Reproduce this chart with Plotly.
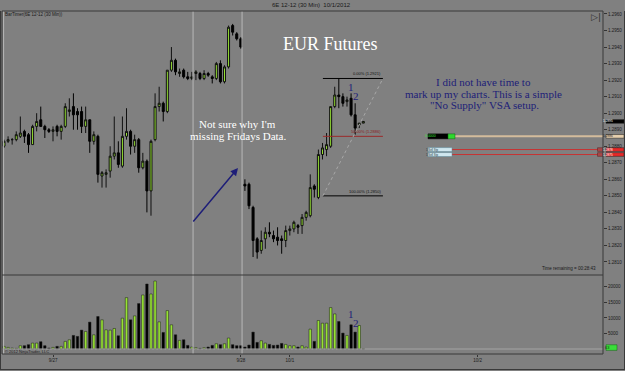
import plotly.graph_objects as go

# ---------------- data ----------------
opens = [1.2880, 1.2883, 1.2884, 1.2884, 1.2886, 1.2889, 1.2887, 1.2881, 1.2892, 1.2896,
         1.2892, 1.2890, 1.2889, 1.2892, 1.2889, 1.2892, 1.2901, 1.2904, 1.2901, 1.2901,
         1.2892, 1.2896, 1.2883, 1.2886, 1.2862, 1.2863, 1.2865, 1.2874, 1.2876, 1.2868,
         1.2886, 1.2889, 1.2880, 1.2884, 1.2867, 1.2871, 1.2853, 1.2884, 1.2904, 1.2906,
         1.2901, 1.2926, 1.2932, 1.2924, 1.2926, 1.2922, 1.2921, 1.2924, 1.2924, 1.2921,
         1.2924, 1.2922, 1.2921, 1.2930, 1.2919, 1.2928, 1.2953, 1.2948, 1.2945, 1.2857,
         1.2857, 1.2843, 1.2824, 1.2817, 1.2824, 1.2828, 1.2826, 1.2825, 1.2824, 1.2823,
         1.2829, 1.2830, 1.2832, 1.2832, 1.2837, 1.2838, 1.2856, 1.2849, 1.2875, 1.2878,
         1.2880, 1.2904, 1.2911, 1.2910, 1.2907, 1.2909, 1.2899, 1.2893, 1.2894]
highs = [1.2884, 1.2886, 1.2885, 1.2889, 1.2898, 1.2890, 1.2888, 1.2893, 1.2900, 1.2904,
         1.2893, 1.2891, 1.2892, 1.2893, 1.2893, 1.2906, 1.2909, 1.2912, 1.2903, 1.2904,
         1.2904, 1.2896, 1.2889, 1.2887, 1.2865, 1.2866, 1.2880, 1.2898, 1.2883, 1.2898,
         1.2903, 1.2890, 1.2887, 1.2885, 1.2876, 1.2872, 1.2884, 1.2912, 1.2916, 1.2907,
         1.2926, 1.2940, 1.2933, 1.2927, 1.2927, 1.2925, 1.2925, 1.2926, 1.2925, 1.2926,
         1.2925, 1.2923, 1.2931, 1.2932, 1.2929, 1.2953, 1.2954, 1.2949, 1.2946, 1.2860,
         1.2858, 1.2844, 1.2825, 1.2829, 1.2831, 1.2834, 1.2829, 1.2831, 1.2826, 1.2832,
         1.2832, 1.2835, 1.2833, 1.2839, 1.2841, 1.2863, 1.2857, 1.2878, 1.2882, 1.2888,
         1.2904, 1.2916, 1.2921, 1.2912, 1.2910, 1.2912, 1.2906, 1.2894, 1.2895]
lows = [1.2879, 1.2882, 1.2881, 1.2883, 1.2885, 1.2882, 1.2876, 1.2881, 1.2889, 1.2892,
        1.2885, 1.2888, 1.2883, 1.2886, 1.2884, 1.2891, 1.2898, 1.2890, 1.2890, 1.2888,
        1.2888, 1.2876, 1.2881, 1.2858, 1.2855, 1.2855, 1.2861, 1.2872, 1.2867, 1.2867,
        1.2884, 1.2875, 1.2876, 1.2864, 1.2866, 1.2840, 1.2838, 1.2883, 1.2901, 1.2895,
        1.2900, 1.2925, 1.2923, 1.2922, 1.2921, 1.2920, 1.2920, 1.2920, 1.2920, 1.2920,
        1.2922, 1.2918, 1.2920, 1.2918, 1.2918, 1.2927, 1.2947, 1.2944, 1.2939, 1.2853,
        1.2842, 1.2813, 1.2812, 1.2815, 1.2818, 1.2825, 1.2822, 1.2820, 1.2815, 1.2819,
        1.2826, 1.2828, 1.2827, 1.2827, 1.2835, 1.2837, 1.2849, 1.2848, 1.2872, 1.2874,
        1.2879, 1.2903, 1.2903, 1.2904, 1.2904, 1.2898, 1.2887, 1.2891, 1.2894]
closes = [1.2883, 1.2884, 1.2884, 1.2887, 1.2888, 1.2886, 1.2881, 1.2892, 1.2895, 1.2892,
          1.2890, 1.2889, 1.2890, 1.2889, 1.2892, 1.2904, 1.2902, 1.2899, 1.2899, 1.2892,
          1.2896, 1.2883, 1.2887, 1.2863, 1.2864, 1.2864, 1.2874, 1.2876, 1.2869, 1.2886,
          1.2889, 1.2880, 1.2884, 1.2867, 1.2871, 1.2853, 1.2883, 1.2904, 1.2906, 1.2901,
          1.2926, 1.2932, 1.2925, 1.2925, 1.2922, 1.2921, 1.2922, 1.2925, 1.2921, 1.2924,
          1.2923, 1.2921, 1.2930, 1.2919, 1.2928, 1.2952, 1.2949, 1.2945, 1.2940, 1.2856,
          1.2844, 1.2823, 1.2816, 1.2823, 1.2828, 1.2827, 1.2824, 1.2823, 1.2823, 1.2829,
          1.2830, 1.2834, 1.2831, 1.2837, 1.2840, 1.2855, 1.2854, 1.2875, 1.2879, 1.2881,
          1.2904, 1.2911, 1.2910, 1.2906, 1.2908, 1.2899, 1.2891, 1.2894, 1.2895]
volumes = [850, 520, 310, 200, 1060, 1060, 1380, 1910, 1910, 2340,
           1060, 310, 520, 850, 850, 2450, 2980, 4370, 4050, 6080,
           5650, 8650, 4580, 10460, 9390, 6190, 6080, 6610, 4260, 9930,
           16550, 9390, 10670, 14630, 17400, 20930, 17720, 21890, 8750, 5330,
           12380, 7790, 4580, 2770, 2980, 1160, 630, 420, 200, 420,
           630, 1160, 1700, 1380, 1700, 3530, 1380, 1060, 1060, 630,
           1270, 5440, 2130, 2660, 1910, 1480, 1160, 1270, 1800, 1480,
           1060, 1060, 630, 1060, 630, 6400, 2450, 9180, 8320, 8320,
           13340, 11310, 8860, 5120, 4370, 7790, 5440, 7570, 63]
bar_index = list(range(len(opens)))

date_ticks = [12, 58, 70, 116]
date_labels = ["9/27", "9/28", "10/1", "10/2"]
price_ticks = [round(1.2810 + 0.001 * k, 4) for k in range(16)]
vol_ticks = [5000, 10000, 15000, 20000]
session_breaks = [-0.1, 46.3, 58.3]
fib_levels = [1.2921, 1.2886, 1.2850]
fib_labels = ["0.00% (1.2921)", "50.00% (1.2886)", "100.00% (1.2850)"]
fib_x = [78.1, 92.8]
order_levels = [1.2886, 1.2878, 1.2875]
order_labels = ["1.2886", "1.2878", "1.2875"]

# ---------------- geometry helpers ----------------
W, H = 625, 371
ML, MR, MT, MB = 2, 22, 11, 17
PW, PH = W - ML - MR, H - MT - MB
def pxx(x):
    return (x - ML) / PW
def pyy(y):
    return (H - MB - y) / PH
split = pyy(275)

GREEN = "#97e234"
NAVY = "#1e1e78"
SANS = "Liberation Sans, Arial, sans-serif"
SERIF = "Liberation Serif, Times New Roman, serif"

vol_colors = [GREEN if c >= o else "#000000" for o, c in zip(opens, closes)]

fig = go.Figure()
fig.add_trace(go.Candlestick(
    x=bar_index, open=opens, high=highs, low=lows, close=closes,
    increasing=dict(fillcolor=GREEN, line=dict(color="#101010", width=1)),
    decreasing=dict(fillcolor="#000000", line=dict(color="#000000", width=1)),
    whiskerwidth=0, xaxis="x", yaxis="y", hoverinfo="skip"))
fig.add_trace(go.Bar(
    x=bar_index, y=volumes, width=0.6,
    marker=dict(color=vol_colors, line=dict(color="#1a1a1a", width=0.5)),
    xaxis="x", yaxis="y2", hoverinfo="skip"))

shapes = []
for sb in session_breaks:
    shapes.append(dict(type="line", xref="x", yref="paper", x0=sb, x1=sb, y0=0, y1=1,
                       line=dict(color="#b8b8b8", width=1)))
shapes.append(dict(type="line", xref="paper", yref="y2", x0=0, x1=1, y0=0, y1=0,
                   line=dict(color="#a4a4a4", width=1)))
fib_cols = ["#000000", "#9b2a2a", "#000000"]
for lv, col in zip(fib_levels, fib_cols):
    shapes.append(dict(type="line", xref="x", yref="y", x0=fib_x[0], x1=fib_x[1], y0=lv, y1=lv,
                       line=dict(color=col, width=1)))
shapes.append(dict(type="line", xref="x", yref="y", x0=fib_x[0], x1=fib_x[1],
                   y0=fib_levels[2], y1=fib_levels[0], line=dict(color="#a8a8a8", width=1, dash="dot")))
shapes.append(dict(type="line", xref="paper", yref="y", x0=pxx(455), x1=1, y0=order_levels[0], y1=order_levels[0],
                   line=dict(color="#d4bc9c", width=2)))
for lv in order_levels[1:]:
    shapes.append(dict(type="line", xref="paper", yref="y", x0=pxx(452), x1=pxx(598), y0=lv, y1=lv,
                       line=dict(color="#c83232", width=1)))
    shapes.append(dict(type="rect", xref="paper", yref="y", x0=pxx(597.5), x1=pxx(603), y0=lv - 0.00011, y1=lv + 0.00011,
                       fillcolor="#a84848", line=dict(color="#502020", width=0.5)))
    shapes.append(dict(type="rect", xref="paper", yref="y", x0=pxx(428), x1=pxx(452), y0=lv - 0.00012, y1=lv + 0.00012,
                       fillcolor="#cfe6ee", line=dict(color="#5a8898", width=0.5)))
shapes.append(dict(type="rect", xref="paper", yref="y", x0=pxx(428), x1=pxx(448),
                   y0=order_levels[0] - 0.00015, y1=order_levels[0] + 0.00015,
                   fillcolor="#000000", line=dict(color="#000000", width=0.5)))
shapes.append(dict(type="rect", xref="paper", yref="y", x0=pxx(448), x1=pxx(455),
                   y0=order_levels[0] - 0.00015, y1=order_levels[0] + 0.00015,
                   fillcolor="#2ed82e", line=dict(color="#106010", width=0.5)))
tag_defs = [(closes[-1], "#000000", "#ffffff", f"{closes[-1]:.4f}"),
            (order_levels[0], "#e6cfae", "#222222", order_labels[0]),
            (order_levels[1], "#e82828", "#ffffff", order_labels[1]),
            (order_levels[2], "#e82828", "#ffffff", order_labels[2])]
for lv, fc, tc, _ in tag_defs:
    shapes.append(dict(type="rect", xref="paper", yref="y", x0=pxx(606), x1=pxx(624), y0=lv - 0.00011, y1=lv + 0.00011,
                       fillcolor=fc, line=dict(color="#202020", width=0.5)))
shapes.append(dict(type="rect", xref="paper", yref="y2", x0=pxx(606), x1=pxx(617), y0=volumes[-1] - 500, y1=volumes[-1] + 1300,
                   fillcolor="#3ade3a", line=dict(color="#146014", width=0.5)))
frame = "#383838"
shapes.append(dict(type="rect", xref="paper", yref="paper", x0=0, x1=1, y0=0, y1=1, line=dict(color=frame, width=1)))
shapes.append(dict(type="line", xref="paper", yref="paper", x0=0, x1=1, y0=split, y1=split, line=dict(color=frame, width=1)))
shapes.append(dict(type="line", xref="paper", yref="paper", x0=pxx(0), x1=pxx(625), y0=pyy(369.5), y1=pyy(369.5),
                   line=dict(color="#3a3a3a", width=1)))
shapes.append(dict(type="line", xref="paper", yref="paper", x0=pxx(0.5), x1=pxx(0.5), y0=pyy(369.5), y1=pyy(11),
                   line=dict(color="#3a3a3a", width=1)))
shapes.append(dict(type="line", xref="paper", yref="paper", x0=pxx(624.5), x1=pxx(624.5), y0=pyy(369.5), y1=pyy(11),
                   line=dict(color="#3a3a3a", width=1)))

ann = []
def text(x, y, s, size, color="#1a1a1a", family=SANS, xanchor="center", xref="paper", yref="paper"):
    ann.append(dict(x=x, y=y, xref=xref, yref=yref, text=s, showarrow=False, xanchor=xanchor, yanchor="middle",
                    font=dict(size=size, color=color, family=family)))

text(pxx(311), pyy(5.5), "6E 12-12 (30 Min)  10/1/2012", 6)
text(pxx(3), pyy(15), "BarTimer(6E 12-12 (30 Min))", 4.5, xanchor="left")
text(pxx(596), pyy(17), "▷|", 9, color="#303030", family="DejaVu Sans")
text(pxx(330), pyy(44), "EUR Futures", 18, color="#ffffff", family=SERIF)
text(pxx(197), pyy(124), "Not sure why I'm", 11, color="#ffffff", family=SERIF, xanchor="left")
text(pxx(188), pyy(136), "missing Fridays Data.", 11, color="#ffffff", family=SERIF, xanchor="left")
text(pxx(483), pyy(82), "I did not have time to", 11, color=NAVY, family=SERIF)
text(pxx(483), pyy(93.5), "mark up my charts. This is a simple", 11, color=NAVY, family=SERIF)
text(pxx(485), pyy(104.5), "\"No Supply\" VSA setup.", 11, color=NAVY, family=SERIF)
text(85, pyy(87), "1", 11, color=NAVY, family=SERIF, xref="x")
text(86.2, pyy(96), "2", 11, color=NAVY, family=SERIF, xref="x")
text(85, pyy(314), "1", 11, color=NAVY, family=SERIF, xref="x")
text(86.2, pyy(323), "2", 11, color=NAVY, family=SERIF, xref="x")
for lv, lab, col in zip(fib_levels, fib_labels, ["#101010", "#8b2020", "#101010"]):
    ann.append(dict(x=fib_x[1], y=lv, xref="x", yref="y", text=lab, showarrow=False, xanchor="right",
                    yanchor="bottom", font=dict(size=4, color=col, family=SANS)))
for lv, fc, tc, lab in tag_defs:
    ann.append(dict(x=pxx(615), y=lv, xref="paper", yref="y", text=lab, showarrow=False,
                    font=dict(size=3.2, color=tc, family=SANS)))
ann.append(dict(x=pxx(611.5), y=volumes[-1] + 400, xref="paper", yref="y2", text=str(volumes[-1]), showarrow=False,
                font=dict(size=4, color="#103010", family=SANS)))
ann.append(dict(x=pxx(438), y=order_levels[0], xref="paper", yref="y", text="0.0000", showarrow=False,
                font=dict(size=3.5, color="#3ae03a", family=SANS)))
for lv in order_levels[1:]:
    ann.append(dict(x=pxx(440), y=lv, xref="paper", yref="y", text="1 Sell Stp", showarrow=False,
                    font=dict(size=2.8, color="#203040", family=SANS)))
text(pxx(598), pyy(268.5), "Time remaining = 00:28:43", 4.5, xanchor="right")
text(pxx(3), pyy(351.5), "© 2012 NinjaTrader, LLC", 4, xanchor="left")
ann.append(dict(x=pxx(238), y=pyy(168), xref="paper", yref="paper", ax=192 - 238, ay=223 - 168,
                text="", showarrow=True, arrowhead=2, arrowsize=1, arrowwidth=1.5, arrowcolor=NAVY))

fig.update_layout(
    width=W, height=H, margin=dict(l=ML, r=MR, t=MT, b=MB, pad=0),
    paper_bgcolor="#808080", plot_bgcolor="#808080", showlegend=False,
    xaxis=dict(domain=[0, 1], anchor="y2", range=[-0.49, 146.7], rangeslider=dict(visible=False),
               tickmode="array", tickvals=date_ticks, ticktext=date_labels,
               tickfont=dict(size=4.5, color="#1a1a1a", family=SANS), ticks="outside", ticklen=2,
               tickcolor="#333333", showgrid=False, zeroline=False, showline=False, fixedrange=True),
    yaxis=dict(domain=[split, 1], side="right", anchor="x", range=[1.280213, 1.296181],
               tickmode="array", tickvals=price_ticks, ticktext=[f"{v:.4f}" for v in price_ticks],
               tickfont=dict(size=4.5, color="#1a1a1a", family=SANS), ticks="outside", ticklen=3,
               tickcolor="#333333", showgrid=False, zeroline=False, showline=False),
    yaxis2=dict(domain=[0, split], side="right", anchor="x", range=[-1610, 23828],
                tickmode="array", tickvals=vol_ticks, ticktext=[str(v) for v in vol_ticks],
                tickfont=dict(size=4.5, color="#1a1a1a", family=SANS), ticks="outside", ticklen=3,
                tickcolor="#333333", showgrid=False, zeroline=False, showline=False),
    shapes=shapes, annotations=ann,
)

fig.write_html("out.html")
